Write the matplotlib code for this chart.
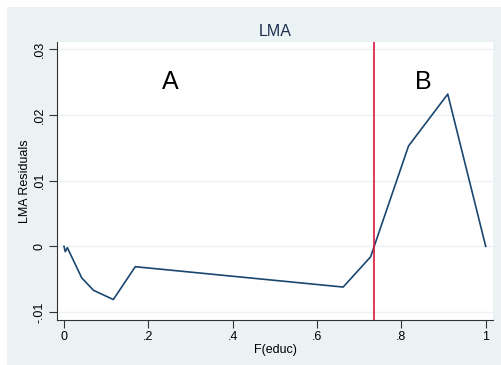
import matplotlib
matplotlib.use("Agg")
import matplotlib.pyplot as plt
from matplotlib.patches import Rectangle

plt.rcParams['font.family'] = ['Liberation Sans', 'DejaVu Sans']

# data
f_educ = [0.0, 0.003, 0.008, 0.042, 0.070, 0.117, 0.169, 0.662, 0.727, 0.817, 0.910, 1.0]
resid = [0.0, -0.0008, -0.0002, -0.0048, -0.0067, -0.0081, -0.0031, -0.0062, -0.0016, 0.0153, 0.0232, 0.0]
cutoff = 0.736
xticks = [0, 0.2, 0.4, 0.6, 0.8, 1]
xticklabels = ['0', '.2', '.4', '.6', '.8', '1']
yticks = [-0.01, 0, 0.01, 0.02, 0.03]
yticklabels = ['-.01', '0', '.01', '.02', '.03']

W, H = 501, 365
fig = plt.figure(figsize=(W / 100, H / 100), dpi=100)
fig.patch.set_facecolor('white')
bg = '#EAF2F3'
fig.patches.append(Rectangle((7 / W, 0), 1, 1 - 7 / H, transform=fig.transFigure,
                             facecolor=bg, edgecolor='none', zorder=-10))

ax = fig.add_axes([57 / W, (H - 320) / H, 436 / W, 278 / H])
ax.set_facecolor('white')
ax.plot(f_educ, resid, color='#1A476F', lw=1.2, zorder=3)
ax.axvline(cutoff, color='#D7193F', lw=1.2, zorder=4)

ax.set_xlim(-0.0166, 1.0173)
ax.set_ylim(-0.01122, 0.03114)
ax.set_xticks(xticks)
ax.set_xticklabels(xticklabels)
ax.set_yticks(yticks)
ax.set_yticklabels(yticklabels, rotation=90, va='center')
ax.grid(axis='y', color=bg, lw=1.0, zorder=0)
ax.set_axisbelow(True)

for s in ['top', 'right']:
    ax.spines[s].set_visible(False)
for s in ['left', 'bottom']:
    ax.spines[s].set_color('#333333')
    ax.spines[s].set_linewidth(0.8)
ax.tick_params(axis='both', labelsize=9, length=6, width=0.8, color='#333333', pad=2)

ax.text(0.251, 0.0250, 'A', fontsize=18, ha='center', va='center')
ax.text(0.851, 0.0250, 'B', fontsize=18, ha='center', va='center')

ax.set_title('LMA', fontsize=11.5, color='#1E3050', pad=4)
ax.set_xlabel('F(educ)', fontsize=9, labelpad=1)
ax.set_ylabel('LMA Residuals', fontsize=9, labelpad=2)

fig.savefig('out.png', dpi=100, facecolor=fig.get_facecolor())
